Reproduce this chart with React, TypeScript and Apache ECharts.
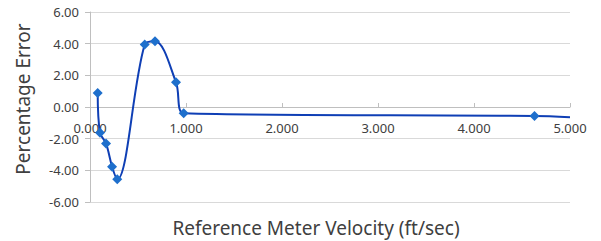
import React, { useEffect, useRef } from "react";
import * as echarts from "echarts";

const velocity = [0.08, 0.104, 0.167, 0.23, 0.284, 0.57, 0.677, 0.896, 0.976, 4.63, 5.0];
const percentError = [0.88, -1.62, -2.3, -3.77, -4.57, 3.95, 4.15, 1.56, -0.4, -0.57, -0.64];
const showMarker = [true, true, true, true, true, true, true, true, true, true, false];

export default function App() {
  const ref = useRef<HTMLDivElement>(null);
  useEffect(() => {
    if (!ref.current) return;
    const chart = echarts.init(ref.current, null, { renderer: "svg" });
    const font = "Noto Sans";
    const data = velocity.map((v, i) => ({
      value: [v, percentError[i]],
      symbol: showMarker[i] ? "diamond" : "none",
    }));
    chart.setOption({
      animation: false,
      grid: { left: 90, right: 31, top: 12, bottom: 39, outerBoundsMode: "none", containLabel: false },
      xAxis: {
        type: "value",
        min: 0,
        max: 5,
        interval: 1,
        offset: -95,
        name: "Reference Meter Velocity (ft/sec)",
        nameLocation: "middle",
        nameGap: 111,
        nameTextStyle: { fontFamily: font, fontSize: 19, color: "#404040", padding: [0, 28, 0, 0] },
        axisLine: { onZero: false, lineStyle: { color: "#bfbfbf", width: 1 } },
        axisTick: { show: true, inside: true, length: 4, lineStyle: { color: "#bfbfbf" } },
        axisLabel: {
          fontFamily: font,
          fontSize: 13,
          color: "#404040",
          margin: 14,
          formatter: (v: number) => v.toFixed(3),
        },
        splitLine: { show: false },
      },
      yAxis: {
        type: "value",
        min: -6,
        max: 6,
        interval: 2,
        name: "Percentage Error",
        nameLocation: "middle",
        nameGap: 58,
        nameTextStyle: { fontFamily: font, fontSize: 19, color: "#404040", padding: [0, 0, 0, 16] },
        axisLine: { show: true, lineStyle: { color: "#bfbfbf", width: 1 } },
        axisTick: { show: true, length: 5, lineStyle: { color: "#bfbfbf" } },
        axisLabel: {
          fontFamily: font,
          fontSize: 13,
          color: "#404040",
          margin: 11,
          formatter: (v: number) => v.toFixed(2),
        },
        splitLine: { show: true, lineStyle: { color: "#d9d9d9", width: 1 } },
      },
      series: [
        {
          type: "line",
          data,
          smooth: 0.35,
          symbolSize: 10,
          lineStyle: { color: "#0f3fb5", width: 2 },
          itemStyle: { color: "#1e6fcc" },
        },
      ],
    });
    return () => chart.dispose();
  }, []);
  return (
    <div
      ref={ref}
      style={{ position: "absolute", left: 0, top: 0, width: 601, height: 241 }}
    />
  );
}
